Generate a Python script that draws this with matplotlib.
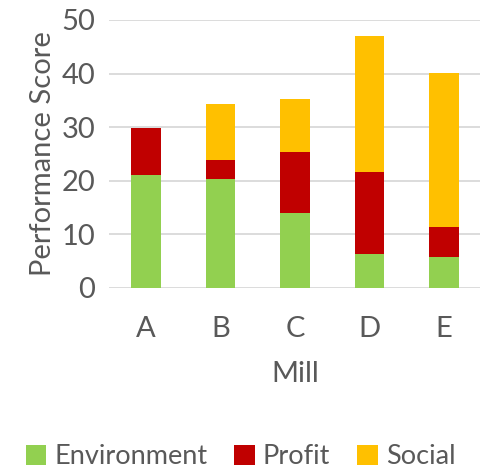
import matplotlib
matplotlib.use("Agg")
import matplotlib.pyplot as plt
import numpy as np

mills = ["A", "B", "C", "D", "E"]
environment = [21.1, 20.4, 13.9, 6.4, 5.7]
profit = [8.8, 3.5, 11.4, 15.2, 5.7]
social = [0.0, 10.4, 10.0, 25.4, 28.7]
yticks = [0, 10, 20, 30, 40, 50]

plt.rcParams['font.family'] = ['Lato', 'DejaVu Sans']
txt = '#595959'
fs = 21

fig = plt.figure(figsize=(4.81, 4.70), dpi=100)
ax = fig.add_axes([109/481, 1-288/470, (481-109)/481, (288-20)/470])

x = np.arange(len(mills))
env = np.array(environment); pro = np.array(profit); soc = np.array(social)
w = 0.4
ax.bar(x, env, w, color='#92D050', label='Environment', zorder=3)
ax.bar(x, pro, w, bottom=env, color='#C00000', label='Profit', zorder=3)
ax.bar(x, soc, w, bottom=env+pro, color='#FFC000', label='Social', zorder=3)

ax.set_xlim(-0.5, len(mills)-0.5)
ax.set_ylim(0, 50)
ax.set_yticks(yticks)
ax.set_xticks(x)
ax.set_xticklabels(mills)
ax.grid(axis='y', color='#D9D9D9', linewidth=1.3, zorder=0)
for s in ax.spines.values():
    s.set_visible(False)
ax.tick_params(length=0, colors=txt, labelsize=fs)
ax.tick_params(axis='y', pad=10)
ax.tick_params(axis='x', pad=20)
ax.set_xlabel('Mill', fontsize=fs, color=txt, labelpad=14)
ax.set_ylabel('Performance Score', fontsize=fs, color=txt, labelpad=4)

fig.legend(loc='lower center', bbox_to_anchor=(0.5, -0.05), ncol=3, frameon=False,
           fontsize=19.5, labelcolor=txt, handlelength=0.75, handleheight=0.75,
           handletextpad=0.3, columnspacing=1.0)

fig.savefig('out.png', dpi=100)
